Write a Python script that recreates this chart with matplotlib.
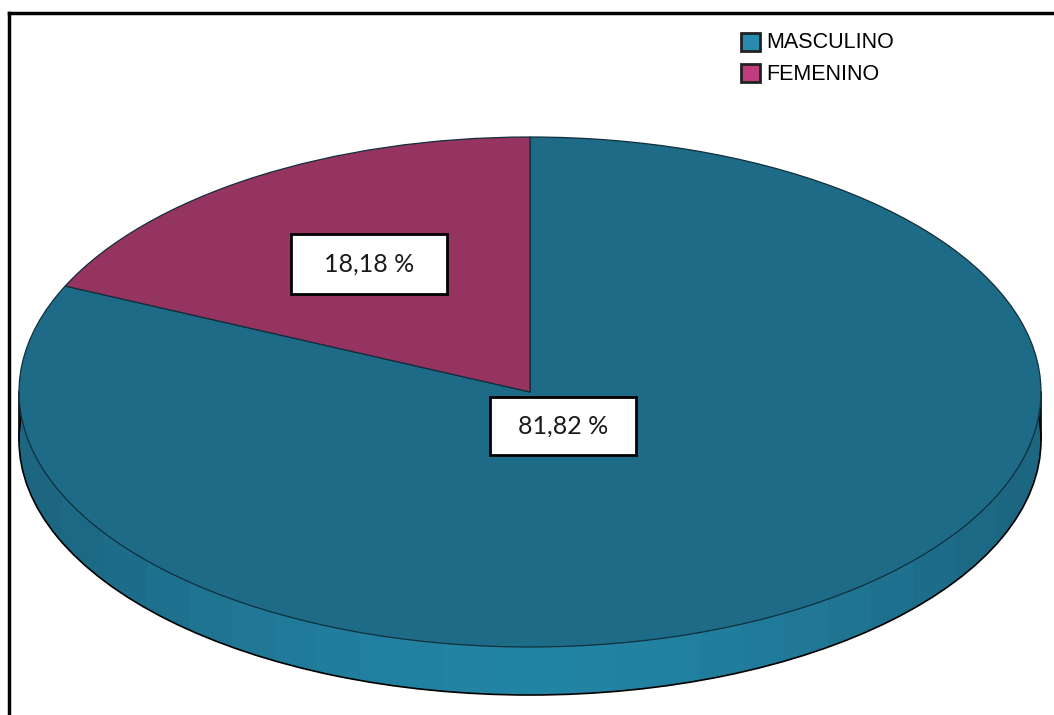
import numpy as np
import matplotlib.pyplot as plt
from matplotlib.patches import Rectangle
from matplotlib.colors import to_rgb

categories = ['MASCULINO', 'FEMENINO']
percentages = [81.82, 18.18]
top_colors = ['#1e6b87', '#963461']
legend_colors = ['#2a8bb0', '#c13c7c']
side_dark = '#1c6682'
side_light = '#2385a5'

W, H = 1054, 715
CX, CY = 530, 392      # centre of the pie top, in pixels
RX, RY = 511, 255      # semi-axes of the ellipse, in pixels
DEPTH = 48             # thickness of the disc, in pixels


def px(x, y):
    """Pixel position -> data units of the elliptical pie axes."""
    return (x - CX) / RX, (CY - y) / RY


fig = plt.figure(figsize=(W / 100, H / 100), dpi=100)
ax = fig.add_axes([0, 0, 1, 1])

d = DEPTH / RY

# side of the disc: a shifted copy of the ellipse plus the band joining both
side_w, _ = ax.pie([1], radius=1, center=(0, -d), colors=[side_light],
                   wedgeprops=dict(edgecolor='black', linewidth=1.2))
band = Rectangle((-1, -d), 2, d, facecolor=side_light, edgecolor='none', zorder=1)
ax.add_patch(band)

# banded shading along the side, darker towards both ends
n = 24
t = np.linspace(-1, 1, n)
shade = np.abs(t) ** 1.5
c0, c1 = np.array(to_rgb(side_light)), np.array(to_rgb(side_dark))
img = (c0[None, :] * (1 - shade[:, None]) + c1[None, :] * shade[:, None])[None, :, :]
for clip in (side_w[0], band):
    im = ax.imshow(img, extent=(-1, 1, -1 - d, 0), aspect='auto',
                   interpolation='nearest', zorder=1.5)
    im.set_clip_path(clip)
ax.plot([-1, -1], [-d, 0], color='black', lw=1.2, zorder=2)
ax.plot([1, 1], [-d, 0], color='black', lw=1.2, zorder=2)
side_w[0].set_zorder(2)
side_w[0].set_facecolor('none')

# top face
wedges, _ = ax.pie(percentages, radius=1, center=(0, 0), colors=top_colors,
                   startangle=90, counterclock=False,
                   wedgeprops=dict(edgecolor='#102f3c', linewidth=0.9))
for w in wedges:
    w.set_zorder(3)

# value boxes
label_pos = [(563, 426), (369, 264)]
box_size = [(146, 58), (156, 60)]
for val, (lx, ly), (bw, bh) in zip(percentages, label_pos, box_size):
    u, v = px(lx, ly)
    ax.add_patch(Rectangle((u - bw / 2 / RX, v - bh / 2 / RY), bw / RX, bh / RY,
                           facecolor='white', edgecolor='black', lw=2, zorder=5))
    ax.text(u, v, f'{val:.2f}'.replace('.', ',') + ' %', ha='center', va='center',
            fontsize=18, family='Lato', color='#1a1a1a', zorder=6)

# legend
for i, (name, col) in enumerate(zip(categories, legend_colors)):
    y = 42 + 31 * i
    u, v = px(741, y + 9)
    ax.add_patch(Rectangle((u, v), 19 / RX, 18 / RY, facecolor=col,
                           edgecolor='#222222', lw=2, zorder=5))
    tu, tv = px(766, y + 1)
    ax.text(tu, tv, name, ha='left', va='center', fontsize=15.5,
            family='Liberation Sans', color='black', zorder=6)

ax.set_aspect('auto')
x0, y0 = px(0, H)
x1, y1 = px(W, 0)
ax.set_xlim(x0, x1)
ax.set_ylim(y0, y1)
ax.axis('off')

# outer frame (top and left edges)
fig.add_artist(plt.Line2D([9 / W, 1], [1 - 13 / H, 1 - 13 / H], color='black', lw=2.5))
fig.add_artist(plt.Line2D([9 / W, 9 / W], [0, 1 - 13 / H], color='black', lw=2.5))

fig.savefig('out.png', dpi=100, facecolor='white')
